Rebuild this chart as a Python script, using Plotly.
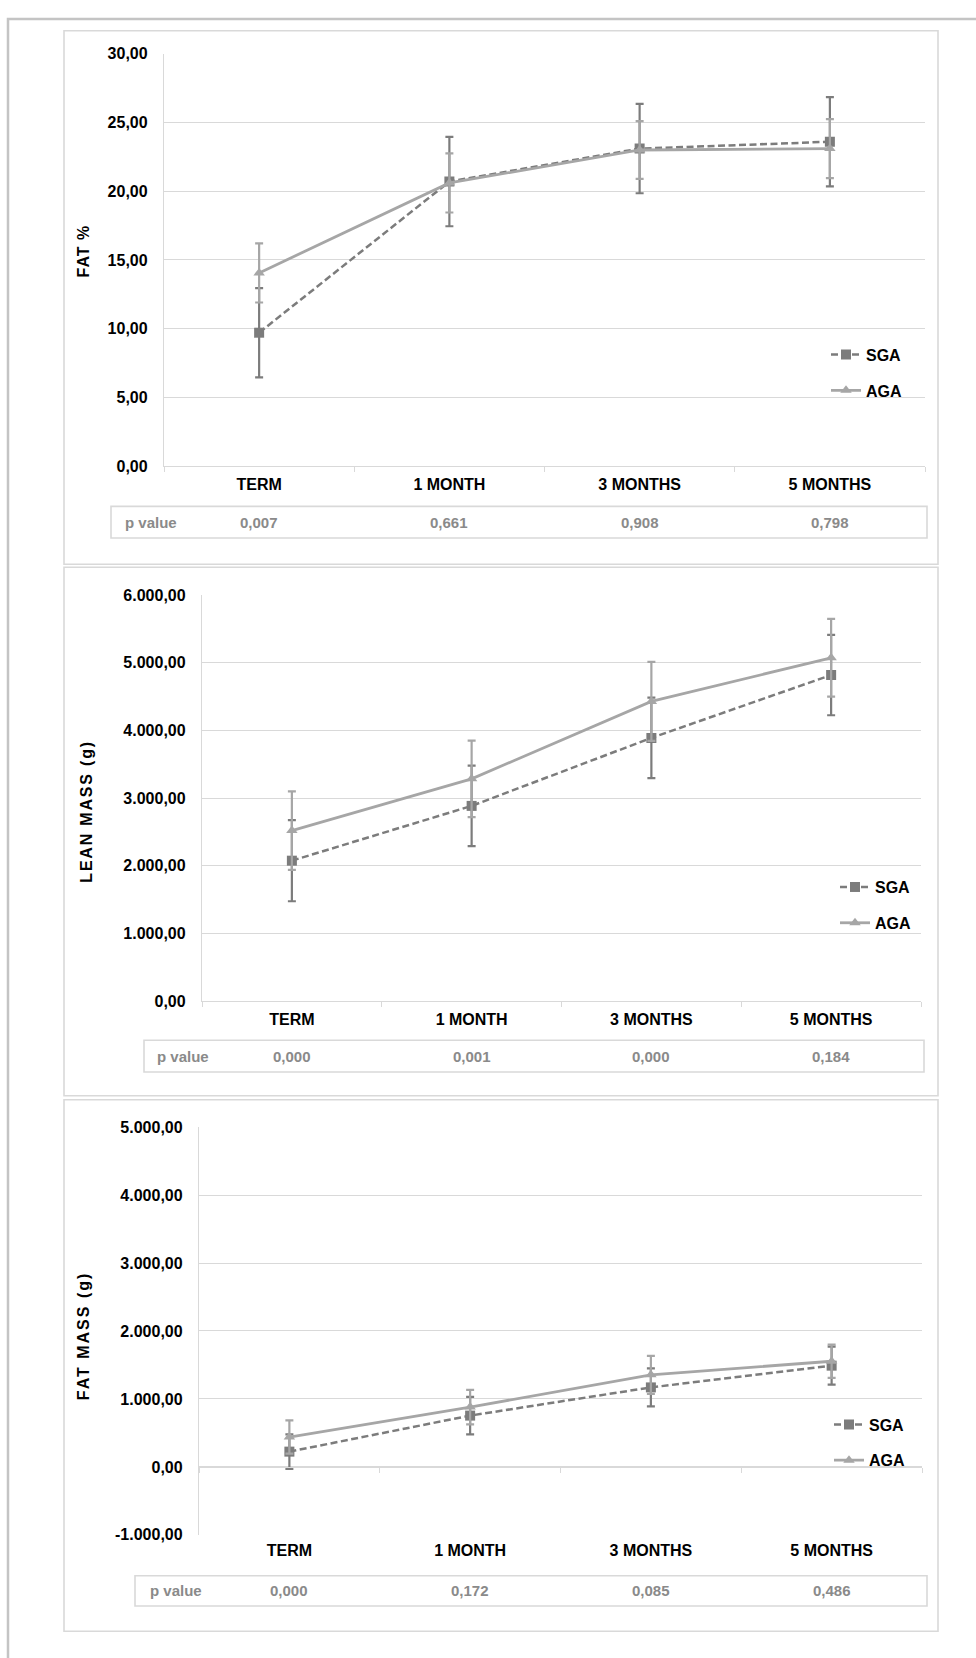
import plotly.graph_objects as go

# ---------------------------------------------------------------- data
categories = ["TERM", "1 MONTH", "3 MONTHS", "5 MONTHS"]

# Body fat percentage
fat_pct_sga = [9.7, 20.7, 23.1, 23.6]
fat_pct_sga_sd = [3.25, 3.25, 3.25, 3.25]
fat_pct_aga = [14.05, 20.6, 23.0, 23.1]
fat_pct_aga_sd = [2.15, 2.15, 2.1, 2.15]
fat_pct_p = ["0,007", "0,661", "0,908", "0,798"]
fat_pct_tickvals = [0, 5, 10, 15, 20, 25, 30]
fat_pct_ticktext = ["0,00", "5,00", "10,00", "15,00", "20,00", "25,00", "30,00"]

# Lean mass (g)
lean_sga = [2075, 2885, 3890, 4820]
lean_sga_sd = [600, 595, 595, 595]
lean_aga = [2520, 3285, 4430, 5075]
lean_aga_sd = [580, 565, 585, 575]
lean_p = ["0,000", "0,001", "0,000", "0,184"]
lean_tickvals = [0, 1000, 2000, 3000, 4000, 5000, 6000]
lean_ticktext = ["0,00", "1.000,00", "2.000,00", "3.000,00",
                 "4.000,00", "5.000,00", "6.000,00"]

# Fat mass (g)
fatmass_sga = [225, 755, 1170, 1490]
fatmass_sga_sd = [255, 275, 280, 280]
fatmass_aga = [440, 880, 1355, 1555]
fatmass_aga_sd = [245, 255, 280, 245]
fatmass_p = ["0,000", "0,172", "0,085", "0,486"]
fatmass_tickvals = [-1000, 0, 1000, 2000, 3000, 4000, 5000]
fatmass_ticktext = ["-1.000,00", "0,00", "1.000,00", "2.000,00",
                    "3.000,00", "4.000,00", "5.000,00"]

# ---------------------------------------------------------------- styling
W, H = 976, 1658
SGA_COLOR = "#7c7c7c"
AGA_COLOR = "#a6a6a6"
GRID = "#d9d9d9"
FRAME = "#d9d9d9"
FONT = "Arial, 'Liberation Sans', sans-serif"
P_COLOR = "#8a8a8a"


def px(x):
    return x / W


def py(y):
    return 1 - y / H


panels = [
    dict(title="FAT %", spacing=1,
         sga=fat_pct_sga, sga_sd=fat_pct_sga_sd,
         aga=fat_pct_aga, aga_sd=fat_pct_aga_sd, pvals=fat_pct_p,
         tickvals=fat_pct_tickvals, ticktext=fat_pct_ticktext,
         yrange=[0, 30],
         plot=(164, 925, 46.3, 462.7), frame=(64, 23, 938, 562),
         table=(111, 503.5, 927, 535.5), ptext_x=123,
         legend_y=350, legend_x=826, title_xy=(83, 246)),
    dict(title="LEAN MASS (g)", spacing=1.8,
         sga=lean_sga, sga_sd=lean_sga_sd,
         aga=lean_aga, aga_sd=lean_aga_sd, pvals=lean_p,
         tickvals=lean_tickvals, ticktext=lean_ticktext,
         yrange=[0, 6000],
         plot=(202, 921, 593.3, 1003.3), frame=(64, 565, 938, 1099),
         table=(144, 1043, 924, 1075), ptext_x=155,
         legend_y=888, legend_x=835, title_xy=(87, 812)),
    dict(title="FAT MASS (g)", spacing=2,
         sga=fatmass_sga, sga_sd=fatmass_sga_sd,
         aga=fatmass_aga, aga_sd=fatmass_aga_sd, pvals=fatmass_p,
         tickvals=fatmass_tickvals, ticktext=fatmass_ticktext,
         yrange=[-1000, 5000],
         plot=(199, 922, 1130.7, 1542.7), frame=(64, 1103, 938, 1640),
         table=(135, 1584, 927, 1614.5), ptext_x=148,
         legend_y=1431, legend_x=829, title_xy=(83, 1342)),
]

fig = go.Figure()
layout = dict(
    width=W, height=H,
    margin=dict(l=0, r=0, t=0, b=0),
    paper_bgcolor="white", plot_bgcolor="white",
    font=dict(family=FONT, size=16, color="#000000"),
    showlegend=True,
    shapes=[], annotations=[],
)

# outer frame around the whole figure
layout["shapes"].append(dict(
    type="rect", xref="paper", yref="paper",
    x0=px(8), x1=px(W + 20), y0=py(H + 20), y1=py(11),
    line=dict(color="#c4c4c4", width=2.5), layer="below"))

for k, p in enumerate(panels, start=1):
    sfx = "" if k == 1 else str(k)
    xa, ya = "x" + sfx, "y" + sfx
    lg = "legend" + sfx
    l, r, t, b = p["plot"]

    fig.add_trace(go.Scatter(
        x=categories, y=p["sga"], name="SGA", mode="lines+markers",
        line=dict(color=SGA_COLOR, width=2.5, dash="7px,3.5px"),
        marker=dict(symbol="square", size=10, color=SGA_COLOR),
        error_y=dict(type="data", array=p["sga_sd"], color=SGA_COLOR,
                     thickness=2.2, width=4),
        xaxis=xa, yaxis=ya, legend=lg, legendgroup=f"sga{k}",
        hoverinfo="skip"))
    fig.add_trace(go.Scatter(
        x=categories, y=p["aga"], name="AGA", mode="lines+markers",
        line=dict(color=AGA_COLOR, width=2.8),
        marker=dict(symbol="triangle-up", size=10, color=AGA_COLOR),
        error_y=dict(type="data", array=p["aga_sd"], color=AGA_COLOR,
                     thickness=2.2, width=4),
        xaxis=xa, yaxis=ya, legend=lg, legendgroup=f"aga{k}",
        hoverinfo="skip"))

    zero_at_bottom = p["yrange"][0] == 0
    layout["xaxis" + sfx] = dict(
        domain=[px(l), px(r)], anchor=ya, type="category",
        categoryorder="array", categoryarray=categories,
        range=[-0.5, len(categories) - 0.5],
        showline=zero_at_bottom, linecolor=GRID, linewidth=1.3,
        ticks="outside" if zero_at_bottom else "", ticklen=5,
        tickcolor=GRID, tickwidth=1.3, tickson="boundaries",
        showgrid=False, zeroline=False, ticklabelstandoff=4,
        tickfont=dict(family=FONT, size=16, color="#000000", weight="bold"))
    layout["yaxis" + sfx] = dict(
        domain=[py(b), py(t)], anchor=xa, range=p["yrange"],
        tickmode="array", tickvals=p["tickvals"], ticktext=p["ticktext"],
        showgrid=True, gridcolor=GRID, gridwidth=1.3,
        showline=True, linecolor=GRID, linewidth=1.3,
        ticks="", zeroline=False, ticklabelstandoff=12,
        tickfont=dict(family=FONT, size=16, color="#000000", weight="bold"))

    if not zero_at_bottom:
        # category axis drawn through the zero value, ticks on boundaries
        lo, hi = p["yrange"]
        pos = py(b) + (0 - lo) / (hi - lo) * (py(t) - py(b))
        layout["xaxis4"] = dict(
            domain=[px(l), px(r)], overlaying=xa, anchor="free",
            position=pos, range=[-0.5, len(categories) - 0.5],
            tickmode="array",
            tickvals=[i - 0.5 for i in range(len(categories) + 1)],
            showticklabels=False, showline=True, linecolor=GRID,
            linewidth=1.3, ticks="outside", ticklen=5, tickcolor=GRID,
            tickwidth=1.3, showgrid=False, zeroline=False)
        fig.add_trace(go.Scatter(x=[], y=[], xaxis="x4", yaxis=ya,
                                 showlegend=False, hoverinfo="skip"))

    layout[lg] = dict(
        x=px(p["legend_x"]), y=py(p["legend_y"] - 17),
        xanchor="left", yanchor="top",
        bgcolor="rgba(0,0,0,0)", borderwidth=0,
        tracegroupgap=12, traceorder="grouped",
        font=dict(family=FONT, size=16, color="#000000", weight="bold"))

    # panel frame
    fl, ft, fr, fb = p["frame"]
    layout["shapes"].append(dict(
        type="rect", xref="paper", yref="paper",
        x0=px(fl), x1=px(fr), y0=py(fb), y1=py(ft),
        line=dict(color=FRAME, width=1.6), layer="below"))

    # p value table
    tl, tt, tr, tb = p["table"]
    layout["shapes"].append(dict(
        type="rect", xref="paper", yref="paper",
        x0=px(tl), x1=px(tr), y0=py(tb), y1=py(tt),
        line=dict(color=FRAME, width=1.6), layer="below"))
    ty = py((tt + tb) / 2)
    layout["annotations"].append(dict(
        text="p value", xref="paper", yref="paper",
        x=px(p["ptext_x"]), y=ty, xanchor="left", yanchor="middle",
        showarrow=False,
        font=dict(family=FONT, size=15, color=P_COLOR, weight="bold")))
    for i, val in enumerate(p["pvals"]):
        layout["annotations"].append(dict(
            text=val, xref=xa, yref="paper", x=i, y=ty,
            xanchor="center", yanchor="middle", showarrow=False,
            font=dict(family=FONT, size=15, color=P_COLOR, weight="bold")))

    # vertical axis title
    tx, tyy = p["title_xy"]
    layout["annotations"].append(dict(
        text=f'<span style="letter-spacing:{p["spacing"]}px">{p["title"]}</span>',
        xref="paper", yref="paper", x=px(tx), y=py(tyy),
        xanchor="center", yanchor="middle", textangle=-90, showarrow=False,
        font=dict(family=FONT, size=16, color="#000000", weight="bold")))

fig.update_layout(**layout)
fig.write_html("out.html")
